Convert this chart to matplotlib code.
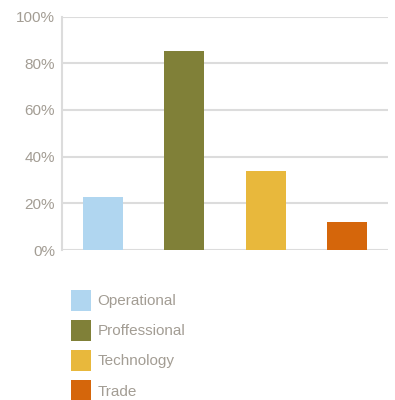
import matplotlib.pyplot as plt
from matplotlib.ticker import PercentFormatter

plt.rcParams['font.family'] = ['Liberation Sans', 'DejaVu Sans']

categorias = ["Operational", "Proffessional", "Technology", "Trade"]
valores = [0.227, 0.852, 0.338, 0.12]
colores = ["#b0d6f0", "#808038", "#e8b83c", "#d5660b"]
gris_texto = "#a39d94"
gris_linea = "#dcdcdc"

fig = plt.figure(figsize=(3.95, 4.0), dpi=100)
ax = fig.add_axes([62 / 395, 1 - 250 / 400, 326 / 395, 233.5 / 400])

barras = ax.bar(range(len(categorias)), valores, width=0.49, color=colores, zorder=3)

ax.set_xlim(-0.5, len(categorias) - 0.5)
ax.set_ylim(0, 1.0)
ax.set_yticks([0, 0.2, 0.4, 0.6, 0.8, 1.0])
ax.yaxis.set_major_formatter(PercentFormatter(1.0, decimals=0))
ax.set_xticks([])
ax.tick_params(axis='y', length=0, pad=5, labelsize=11, labelcolor=gris_texto)
ax.grid(axis='y', color=gris_linea, linewidth=1.5, zorder=0)
for lado in ["top", "right", "bottom"]:
    ax.spines[lado].set_visible(False)
ax.spines["left"].set_color(gris_linea)
ax.spines["left"].set_linewidth(1.5)
ax.axhline(0, color=gris_linea, linewidth=2, zorder=1)

leg = fig.legend(barras, categorias, loc="upper left",
                 bbox_to_anchor=(71 / 395, 1 - 290 / 400),
                 frameon=False, fontsize=11, borderpad=0, borderaxespad=0,
                 handlelength=1.3, handleheight=1.7, handletextpad=0.45,
                 labelspacing=0.62, labelcolor=gris_texto)

fig.savefig("out.png", dpi=100)
